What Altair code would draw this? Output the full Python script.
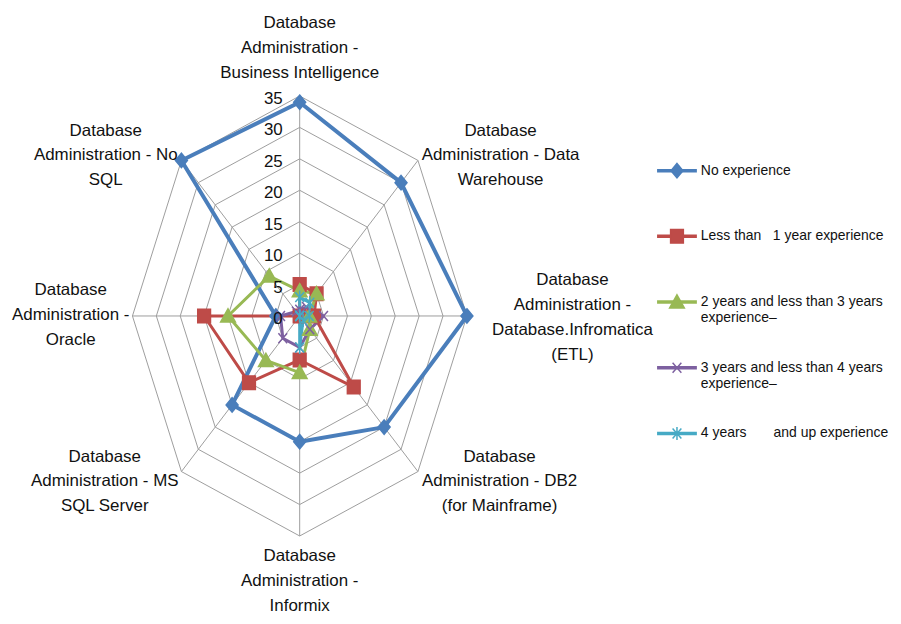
import altair as alt
import pandas as pd

# ---------------- data ----------------
categories = [
    "Database Administration - Business Intelligence",
    "Database Administration - Data Warehouse",
    "Database Administration - Database.Infromatica (ETL)",
    "Database Administration - DB2 (for Mainframe)",
    "Database Administration - Informix",
    "Database Administration - MS SQL Server",
    "Database Administration - Oracle",
    "Database Administration - No SQL",
]
category_lines = [
    "Database\nAdministration -\nBusiness Intelligence",
    "Database\nAdministration - Data\nWarehouse",
    "Database\nAdministration -\nDatabase.Infromatica\n(ETL)",
    "Database\nAdministration - DB2\n(for Mainframe)",
    "Database\nAdministration -\nInformix",
    "Database\nAdministration - MS\nSQL Server",
    "Database\nAdministration -\nOracle",
    "Database\nAdministration - No\nSQL",
]

series_names = [
    "No experience",
    "Less than 1 year experience",
    "2 years and less than 3 years experience–",
    "3 years and less than 4 years experience–",
    "4 years and up experience",
]
legend_lines = [
    ["No experience"],
    ["Less than\u00a0\u00a0\u00a01 year experience"],
    ["2 years and less than 3 years", "experience–"],
    ["3 years and less than 4 years", "experience–"],
    ["4 years\u00a0\u00a0\u00a0\u00a0\u00a0\u00a0\u00a0and up experience"],
]

no_experience = [34, 30, 35, 25, 20, 20, 5, 35]
less_than_1 = [5, 5, 3, 16, 7, 15, 20, 0]
years_2_3 = [4, 5, 2, 3, 9, 10, 15, 9]
years_3_4 = [1, 2, 5, 3, 5, 5, 4, 1]
years_4_up = [3, 3, 2, 1, 5, 0, 0, 0]
series_values = [no_experience, less_than_1, years_2_3, years_3_4, years_4_up]

tick_values = [0, 5, 10, 15, 20, 25, 30, 35]
max_value = 35

colors = ["#4A7EBB", "#BE4B48", "#98B954", "#7D60A0", "#46AAC5"]
# marker outlines drawn inside a large symbol box (size 1600 -> unit = 20px)
shapes = [
    "M0,-0.36L0.3,0L0,0.36L-0.3,0Z",
    "M-0.32,-0.34H0.32V0.34H-0.32Z",
    "M0,-0.36L0.37,0.3H-0.37Z",
    "M-0.22,-0.25L0.22,0.25M-0.22,0.25L0.22,-0.25",
    "M-0.22,-0.25L0.22,0.25M-0.22,0.25L0.22,-0.25M0,-0.33L0,0.33",
]

FONT = "Liberation Sans, Arial, sans-serif"
n = len(categories)
LINE_SUFFIX = "\u200b"

# ---------------- tables ----------------
rows = []
for name, vals in zip(series_names, series_values):
    for k in range(n + 1):
        rows.append({"series": name, "line_series": name + LINE_SUFFIX,
                     "order": k, "idx": k % n, "value": vals[k % n]})
series_df = pd.DataFrame(rows)

grid_rows = []
for t in tick_values[1:]:
    for k in range(n + 1):
        grid_rows.append({"ring": t, "order": k, "idx": k % n, "value": t})
grid_df = pd.DataFrame(grid_rows)

cat_df = pd.DataFrame({"idx": list(range(n)), "category": categories,
                       "lines": category_lines, "value": max_value})
tick_df = pd.DataFrame({"idx": 0, "value": tick_values, "label": [str(t) for t in tick_values]})

xs = alt.Scale(domain=[-max_value, max_value], nice=False, zero=False)
ys = alt.Scale(domain=[-max_value, max_value], nice=False, zero=False)

def polar(chart):
    return chart.transform_calculate(
        px="datum.value * sin(datum.idx * PI / 4)",
        py="datum.value * cos(datum.idx * PI / 4)",
    )

X = alt.X("px:Q", scale=xs, axis=None)
Y = alt.Y("py:Q", scale=ys, axis=None)

grid = polar(alt.Chart(grid_df)).mark_line(color="#9d9d9d", strokeWidth=1).encode(
    x=X, y=Y, detail="ring:N", order="order:Q"
)

spokes = polar(alt.Chart(cat_df)).transform_calculate(zx="0", zy="0").mark_rule(
    color="#9d9d9d", strokeWidth=1
).encode(x=alt.X("zx:Q", scale=xs, axis=None), y=alt.Y("zy:Q", scale=ys, axis=None),
         x2="px:Q", y2="py:Q")

tick_labels = polar(alt.Chart(tick_df)).mark_text(
    align="right", baseline="middle", dx=-17, dy=3, font=FONT, fontSize=17, color="#111111"
).encode(x=X, y=Y, text="label:N")


def label_expr(suffix):
    parts = []
    for name, lines in zip(series_names, legend_lines):
        arr = [lines[0], lines[1] if len(lines) > 1 else ""]
        arr_s = "[" + ",".join("'" + s + "'" for s in arr) + "]"
        parts.append("datum.label == '" + name + suffix + "' ? " + arr_s + " : ")
    return "".join(parts) + "[datum.label, '']"


common_legend = dict(
    title=None, orient="none", direction="vertical", symbolSize=1600,
    labelFont=FONT, labelFontSize=14, labelColor="#111111", labelLimit=400,
)

line_legend = alt.Legend(legendX=525, legendY=53, rowPadding=21, symbolType="stroke",
                         symbolStrokeWidth=3.5, labelOffset=2,
                         labelExpr=label_expr(LINE_SUFFIX), **common_legend)
marker_legend = alt.Legend(legendX=526, legendY=54, rowPadding=22, symbolStrokeWidth=1.5,
                           labelOpacity=0, labelExpr=label_expr(""), **common_legend)

lines = polar(alt.Chart(series_df)).mark_line(strokeJoin="round").encode(
    x=X, y=Y, order="order:Q",
    color=alt.Color("line_series:N",
                    scale=alt.Scale(domain=[s + LINE_SUFFIX for s in series_names], range=colors),
                    legend=line_legend),
    strokeWidth=alt.condition(alt.datum.series == series_names[0], alt.value(4), alt.value(3)),
)

points = polar(alt.Chart(series_df)).transform_filter(alt.datum.order < n).mark_point(
    filled=True, opacity=1, strokeWidth=1.5, size=1600
).encode(
    x=X, y=Y,
    fill=alt.Fill("series:N", scale=alt.Scale(domain=series_names, range=colors),
                  legend=marker_legend),
    stroke=alt.Stroke("series:N", scale=alt.Scale(domain=series_names, range=colors),
                      legend=marker_legend),
    shape=alt.Shape("series:N", scale=alt.Scale(domain=series_names, range=shapes),
                    legend=marker_legend),
)

# label offsets (pixels) from the outer vertex of each spoke to the first text line
offsets = [(0, -73), (83, -30), (106, -36), (82, -15), (0, 20), (-77, -15), (-62, -26), (-76, -30)]
label_layers = []
for i, (dx, dy) in enumerate(offsets):
    label_layers.append(
        polar(alt.Chart(cat_df)).transform_filter(alt.datum.idx == i).mark_text(
            align="center", baseline="middle", lineBreak="\n", lineHeight=25,
            font=FONT, fontSize=17, color="#111111", dx=dx, dy=dy
        ).encode(x=X, y=Y, text="lines:N")
    )

chart = alt.layer(grid, spokes, lines, points, tick_labels, *label_layers).properties(
    width=336, height=442,
    padding={"left": 125, "top": 87, "right": 428, "bottom": 78},
    autosize=alt.AutoSizeParams(type="none"),
    background="white",
).configure_view(stroke=None)

chart.save("out.html", embed_options={"renderer": "svg", "actions": False})
